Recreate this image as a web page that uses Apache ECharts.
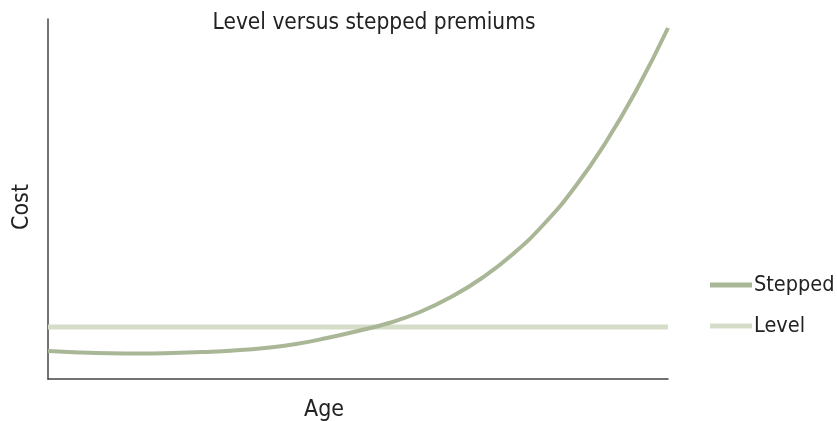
<!DOCTYPE html>
<html>
<head>
<meta charset="utf-8">
<script src="https://cdn.jsdelivr.net/npm/echarts@6/dist/echarts.min.js"></script>
<style>
html,body{margin:0;padding:0;background:#fff;}
#c{width:837px;height:421px;}
</style>
</head>
<body>
<div id="c"></div>
<script>
const ages = [0,5,10,15,20,25,30,35,40,45,50,55,60,65,70,75,80,85,90,95,100];
const stepped = [28,26.5,25.7,25.5,26,27,28.5,31,35,41,48,56,67,82,101,125,155,192,237,290,351];
const levelAges = [0,100];
const levelValue = [52,52];

const FONT = "'Liberation Sans Narrow','DejaVu Sans Condensed','Roboto',sans-serif";
const chart = echarts.init(document.getElementById('c'));
chart.setOption({
  animation:false,
  title:{
    text:'Level versus stepped premiums',
    left:369, top:7, textAlign:'center',
    textStyle:{fontFamily:FONT,fontSize:22.5,fontWeight:'normal',color:'#222'}
  },
  legend:{
    orient:'vertical', left:705, top:269, itemGap:19,
    itemWidth:42, itemHeight:5, icon:'rect',
    textStyle:{fontFamily:FONT,fontSize:21.5,color:'#222',padding:[0,0,0,-3]},
    data:['Stepped','Level']
  },
  grid:{left:48,right:169,top:19,bottom:42,containLabel:false,outerBoundsMode:'none'},
  xAxis:{
    type:'value', min:0, max:100,
    name:'Age', nameLocation:'middle', nameGap:20,
    nameTextStyle:{fontFamily:FONT,fontSize:23,color:'#222',padding:[0,68,0,0]},
    axisLine:{show:true,lineStyle:{color:'#444',width:1.5}},
    axisTick:{show:false}, axisLabel:{show:false}, splitLine:{show:false}
  },
  yAxis:{
    type:'value', min:0, max:360,
    name:'Cost', nameLocation:'middle', nameGap:14,
    nameTextStyle:{fontFamily:FONT,fontSize:23,color:'#222',padding:[0,0,0,-16]},
    axisLine:{show:true,lineStyle:{color:'#444',width:1.5}},
    axisTick:{show:false}, axisLabel:{show:false}, splitLine:{show:false}
  },
  series:[
    {
      name:'Stepped', type:'line', smooth:0.5, showSymbol:false,
      data:ages.map((a,i)=>[a,stepped[i]]),
      lineStyle:{color:'#a9b797',width:4}, itemStyle:{color:'#a9b797'}, z:3
    },
    {
      name:'Level', type:'line', showSymbol:false, clip:false,
      data:levelAges.map((a,i)=>[a,levelValue[i]]),
      lineStyle:{color:'#d5ddc9',width:5}, itemStyle:{color:'#d5ddc9'}, z:2
    }
  ]
});
</script>
</body>
</html>
